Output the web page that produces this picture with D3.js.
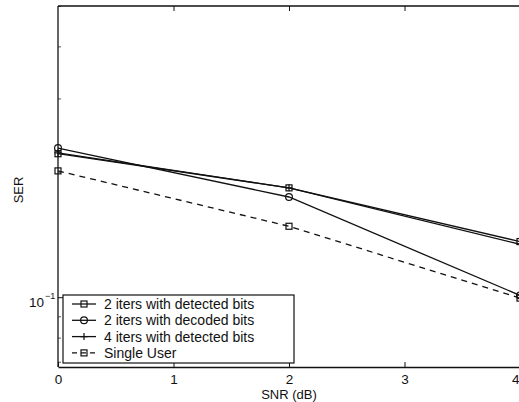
<!DOCTYPE html>
<html><head><meta charset="utf-8">
<script src="https://cdn.jsdelivr.net/npm/d3@7"></script>
<style>body{margin:0;background:#fff}svg{display:block}text{font-family:"Liberation Sans",Arial,sans-serif;fill:#111}</style>
</head><body>
<script>
const snr = [0, 2, 4];
const iters2Detected = [0.221, 0.183, 0.136];
const iters2Decoded = [0.228, 0.174, 0.101];
const iters4Detected = [0.222, 0.183, 0.134];
const singleUser = [0.201, 0.148, 0.0995];
const seriesNames = ["2 iters with detected bits", "2 iters with decoded bits", "4 iters with detected bits", "Single User"];
const xTicks = [0, 1, 2, 3, 4];
const yMajorTicks = [0.1];
const yMinorTicks = [0.07, 0.08, 0.09, 0.2, 0.3, 0.4, 0.5];

const W = 519, H = 402;
const svg = d3.select("body").append("svg").attr("width", W).attr("height", H);
const x = d3.scaleLinear().domain([0, 4]).range([58, 520]);
const y = d3.scaleLog().domain([0.068, 0.5]).range([367, 6]);
const ink = "#111";
const FONT = '"Liberation Sans",Arial,sans-serif';

const series = [
  {name: seriesNames[0], vals: iters2Detected, marker: "square", dash: null},
  {name: seriesNames[1], vals: iters2Decoded, marker: "circle", dash: null},
  {name: seriesNames[2], vals: iters4Detected, marker: "plus", dash: null},
  {name: seriesNames[3], vals: singleUser, marker: "square", dash: "6,5"}
];

// axes box
const g = svg.append("g");
g.append("line").attr("x1", 58).attr("x2", 520).attr("y1", 6).attr("y2", 6).attr("stroke", ink).attr("stroke-width", 1.3);
g.append("line").attr("x1", 58).attr("x2", 58).attr("y1", 6).attr("y2", 367).attr("stroke", ink).attr("stroke-width", 1.3);

// x axis (bottom) with inward ticks
const xAxis = d3.axisBottom(x).tickValues(xTicks).tickSizeInner(-5).tickSizeOuter(0).tickPadding(7).tickFormat(d3.format("d"));
const gx = svg.append("g").attr("transform", "translate(0,367)").call(xAxis);
gx.select(".domain").attr("stroke", ink).attr("stroke-width", 1.3);
gx.selectAll(".tick line").attr("stroke", ink);
gx.selectAll("text").attr("font-size", 13.5).style("font-family", FONT).attr("fill", ink);
// keep the last label inside the window
gx.selectAll(".tick text").filter(d => d === 4).attr("text-anchor", "end").attr("dx", -1);
// top inward ticks
const xTop = d3.axisTop(x).tickValues(xTicks.slice(1)).tickSizeInner(-5).tickSizeOuter(0).tickFormat("");
const gxt = svg.append("g").attr("transform", "translate(0,6)").call(xTop);
gxt.select(".domain").remove();
gxt.selectAll(".tick line").attr("stroke", ink);

// y axis
const yAxis = d3.axisLeft(y).tickValues(yMajorTicks).tickSizeInner(-5).tickSizeOuter(0).tickFormat("");
const gy = svg.append("g").attr("transform", "translate(58,0)").call(yAxis);
gy.select(".domain").remove();
gy.selectAll(".tick line").attr("stroke", ink);
const yMinor = d3.axisLeft(y).tickValues(yMinorTicks).tickSizeInner(-3).tickSizeOuter(0).tickFormat("");
const gym = svg.append("g").attr("transform", "translate(58,0)").call(yMinor);
gym.select(".domain").remove();
gym.selectAll(".tick line").attr("stroke", ink).attr("stroke-opacity", 0.7);
// 10^-1 label
yMajorTicks.forEach(v => {
  svg.append("text").attr("x", 44).attr("y", y(v) + 10).attr("text-anchor", "end").attr("font-size", 13.5).attr("fill", ink).text("10");
  svg.append("text").attr("x", 45).attr("y", y(v) + 2).attr("font-size", 9).attr("fill", ink).text("\u22121");
});

// axis titles
svg.append("text").attr("x", 289).attr("y", 399).attr("text-anchor", "middle").attr("font-size", 13).attr("fill", ink).text("SNR (dB)");
svg.append("text").attr("transform", "translate(23,190) rotate(-90)").attr("text-anchor", "middle").attr("font-size", 13).attr("fill", ink).text("SER");

// marker drawing
function drawMarker(sel, type, cx, cy) {
  if (type === "square") {
    sel.append("rect").attr("x", cx - 3).attr("y", cy - 3).attr("width", 6).attr("height", 6)
      .attr("fill", "none").attr("stroke", ink).attr("stroke-width", 1.2);
  } else if (type === "circle") {
    sel.append("circle").attr("cx", cx).attr("cy", cy).attr("r", 3.4)
      .attr("fill", "none").attr("stroke", ink).attr("stroke-width", 1.2);
  } else if (type === "plus") {
    sel.append("path").attr("d", `M${cx-3.5},${cy}H${cx+3.5}M${cx},${cy-3.5}V${cy+3.5}`)
      .attr("stroke", ink).attr("stroke-width", 1.2);
  }
}

const line = d3.line().x((d, i) => x(snr[i])).y(d => y(d));
const plot = svg.append("g");
series.forEach(s => {
  plot.append("path").datum(s.vals).attr("d", line).attr("fill", "none").attr("stroke", ink)
    .attr("stroke-width", 1.3).attr("stroke-dasharray", s.dash);
  s.vals.forEach((v, i) => drawMarker(plot, s.marker, x(snr[i]), y(v)));
});

// legend
const lg = svg.append("g");
lg.append("rect").attr("x", 63).attr("y", 295).attr("width", 231).attr("height", 68)
  .attr("fill", "#fff").attr("stroke", ink).attr("stroke-width", 1.2);
series.forEach((s, i) => {
  const cy = 304 + i * 16.3;
  lg.append("line").attr("x1", 72).attr("x2", 96).attr("y1", cy).attr("y2", cy)
    .attr("stroke", ink).attr("stroke-width", 1.3).attr("stroke-dasharray", s.dash ? "5,4" : null);
  drawMarker(lg, s.marker, 84, cy);
  lg.append("text").attr("x", 104).attr("y", cy + 5).attr("font-size", 14).attr("fill", ink).text(s.name);
});
</script>
</body></html>
